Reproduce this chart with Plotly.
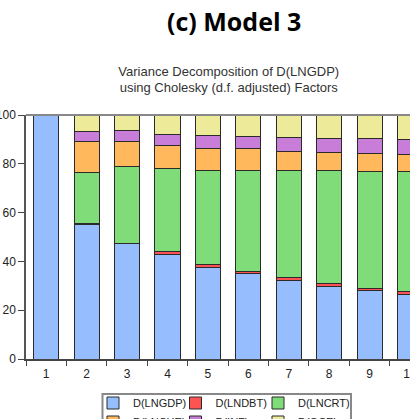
import plotly.graph_objects as go

periods = [str(i) for i in range(1, 11)]
d_lngdp = [100.0, 55.3, 47.3, 43.0, 37.7, 35.0, 32.0, 29.9, 28.0, 26.5]
d_lndbt = [0.0, 0.1, 0.1, 0.9, 1.2, 0.8, 1.2, 1.2, 1.1, 1.0]
d_lncrt = [0.0, 21.2, 31.3, 34.1, 38.4, 41.5, 44.0, 46.1, 47.7, 49.3]
d_lnche = [0.0, 12.6, 10.5, 9.4, 9.0, 8.8, 8.0, 7.3, 7.3, 6.9]
d_inf = [0.0, 4.0, 4.4, 4.8, 5.5, 4.9, 5.5, 5.8, 6.3, 6.2]
d_gce = [0.0, 6.8, 6.4, 7.8, 8.2, 9.0, 9.3, 9.7, 9.6, 10.1]

series_names = ["D(LNGDP)", "D(LNDBT)", "D(LNCRT)", "D(LNCHE)", "D(INF)", "D(GCE)"]
series_values = [d_lngdp, d_lndbt, d_lncrt, d_lnche, d_inf, d_gce]
series_colors = ["#96BEFF", "#FF5252", "#80DC78", "#FFB85C", "#C87DD8", "#EDEB99"]
legend_cols = ["legend", "legend2", "legend3", "legend", "legend2", "legend3"]

fig = go.Figure()
for name, vals, col, lg in zip(series_names, series_values, series_colors, legend_cols):
    fig.add_bar(x=periods, y=vals, name=name, legend=lg,
                marker=dict(color=col, line=dict(color="#2a2a2a", width=1)))

leg_common = dict(orientation="v", xref="container", yref="container",
                  xanchor="left", yanchor="top", bgcolor="rgba(0,0,0,0)",
                  borderwidth=0, font=dict(size=11, color="#222"),
                  traceorder="normal", y=1 - 388.5 / 419)

fig.update_layout(
    template="none",
    barmode="stack",
    bargap=0.38,
    width=410, height=419,
    margin=dict(l=26, r=0, t=115, b=60, autoexpand=False),
    paper_bgcolor="white", plot_bgcolor="white",
    font=dict(family="Liberation Sans, Arial, sans-serif", size=12, color="#222"),
    title=dict(text="Variance Decomposition of D(LNGDP)<br>using Cholesky (d.f. adjusted) Factors",
               x=0.558, xanchor="center", y=1 - 75.5 / 419, yanchor="middle",
               font=dict(size=13, color="#333")),
    legend=dict(leg_common, x=93 / 410),
    legend2=dict(leg_common, x=175.5 / 410),
    legend3=dict(leg_common, x=258 / 410),
    showlegend=True,
)
fig.update_xaxes(type="category", range=[-0.5, 9.0], tickson="boundaries",
                 ticks="outside", ticklen=5, tickcolor="#444", showline=True,
                 linecolor="#444", linewidth=1.5, showgrid=False, zeroline=False,
                 automargin=False, ticklabelstandoff=3,
                 tickfont=dict(size=12, color="#222"))
fig.update_yaxes(range=[0, 100], tickvals=[0, 20, 40, 60, 80, 100],
                 ticks="outside", ticklen=6, tickcolor="#444", showline=True,
                 linecolor="#555", linewidth=1.5, showgrid=False, zeroline=False,
                 automargin=False, tickfont=dict(size=12, color="#222"))
fig.add_shape(type="line", xref="paper", yref="paper", x0=0, x1=1, y0=1, y1=1,
              line=dict(color="#888", width=2))
# legend frame
fig.add_shape(type="rect", xref="paper", yref="paper",
              x0=(102.5 - 26) / 384, x1=(351 - 26) / 384,
              y0=(359 - 394) / 244, y1=(359 - 440) / 244,
              line=dict(color="#888", width=2), fillcolor="rgba(0,0,0,0)", layer="below")
fig.add_annotation(text="<b>(c) Model 3</b>", xref="paper", yref="paper",
                   x=(234 - 26) / 384, y=(359 - 21) / 244, xanchor="center", yanchor="middle",
                   showarrow=False, font=dict(family="Open Sans", size=25, color="#000"))

fig.write_html("out.html", config={"displayModeBar": False},
               post_script="document.body.style.margin='0';document.body.style.overflow='hidden';")
